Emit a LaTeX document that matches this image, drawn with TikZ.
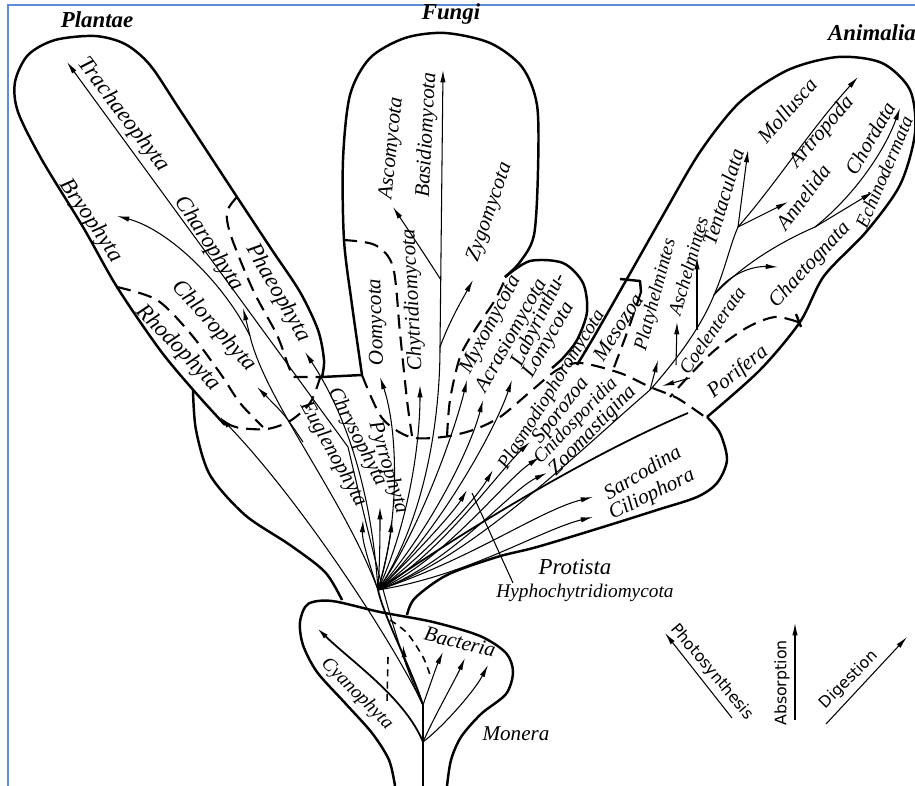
\documentclass[tikz,border=0pt]{standalone}
\usepackage{fontspec}
\setmainfont{Liberation Serif}
\newfontfamily\modefont{DejaVu Sans}
\usetikzlibrary{arrows.meta}
\definecolor{frameblue}{RGB}{91,141,217}
\tikzset{lobe/.style={line width=1.4pt, line join=round},
         part/.style={line width=1.2pt, dash pattern=on 8pt off 4.5pt},
         fine/.style={line width=0.9pt, dash pattern=on 4pt off 3pt},
         ln/.style={line width=0.6pt},
         twig/.style={line width=0.6pt, -{Latex[length=7pt,width=3pt]}},
         taxon/.style={font=\itshape\fontsize{12}{12}\selectfont, inner sep=0pt},
         plant/.style={taxon, font=\itshape\fontsize{13}{13}\selectfont},
         small/.style={taxon, font=\itshape\fontsize{11}{11}\selectfont},
         kingdom/.style={font=\bfseries\itshape\fontsize{13}{13}\selectfont, inner sep=0pt},
         mode/.style={font=\modefont\fontsize{9}{9}\selectfont, inner sep=0pt},
        }

\begin{document}
\begin{tikzpicture}[x=0.02cm, y=-0.02cm]
        \useasboundingbox (0,0) rectangle (915,786);
        \draw[frameblue, line width=0.9pt] (8,786) -- (8,5) -- (915,5);

        \coordinate (root) at (423,786);
        \coordinate (m1) at (423,742);
        \coordinate (m2) at (423,705);
        \coordinate (pro) at (378,590);
        \coordinate (ani) at (650,390);

        \coordinate (cya) at (317,628);
        \coordinate (bac1) at (403,645);
        \coordinate (bac2) at (443,652);
        \coordinate (bac3) at (465,658);
        \coordinate (bac4) at (488,665);

        \coordinate (tra) at (67,62);
        \coordinate (trk) at (348,447);
        \coordinate (cha) at (243,308);
        \coordinate (chak) at (250,336);
        \coordinate (bry) at (117,216);
        \coordinate (chl) at (257,387);
        \coordinate (chlk) at (303,442);
        \coordinate (rho) at (220,417);
        \coordinate (pha) at (305,352);

        \coordinate (eug) at (363,520);
        \coordinate (chr) at (380,507);
        \coordinate (pyr) at (392,520);
        \coordinate (oom) at (380,377);
        \coordinate (chy) at (420,385);
        \coordinate (bask) at (440,347);
        \coordinate (bas) at (443,70);
        \coordinate (ascj) at (441,280);
        \coordinate (asc) at (393,207);
        \coordinate (zyg) at (473,280);
        \coordinate (myx) at (467,380);
        \coordinate (acr) at (483,400);
        \coordinate (lab) at (512,380);
        \coordinate (hyp) at (467,490);
        \coordinate (pla) at (493,470);
        \coordinate (spo) at (530,442);
        \coordinate (cni) at (540,457);
        \coordinate (zoo) at (547,473);
        \coordinate (sar) at (593,497);
        \coordinate (cil) at (593,517);
        \coordinate (sare) at (688,413);
        \coordinate (hyl) at (472,493);
        \coordinate (hyl2) at (513,583);

        \coordinate (pty) at (658,360);
        \coordinate (ash0) at (676,365);
        \coordinate (ash) at (677,322);
        \coordinate (ten0) at (697,330);
        \coordinate (ten) at (697,257);
        \coordinate (coe0) at (690,378);
        \coordinate (coe) at (662,386);
        \coordinate (s1) at (714,295);
        \coordinate (chae) at (778,267);
        \coordinate (ech0) at (815,227);
        \coordinate (ech) at (873,192);
        \coordinate (cho) at (900,108);
        \coordinate (mol0) at (738,227);
        \coordinate (mol) at (748,150);
        \coordinate (ann) at (788,202);
        \coordinate (art) at (858,77);

        \coordinate (pho0) at (732,718);
        \coordinate (pho) at (665,633);
        \coordinate (abs0) at (795,720);
        \coordinate (abs) at (795,623);
        \coordinate (dig0) at (826,724);
        \coordinate (dig) at (907,637);

        % outlines
        \draw[lobe] plot[smooth] coordinates {(225,425) (195,392) (160,350) (117,287) (83,227) (42,160) (18,112) (15,82) (28,55) (55,40) (95,36) (125,44) (150,65) (180,110) (237,197) (272,250) (300,292) (318,330) (324,360) (322,377)} -- (362,375);
        \draw[lobe] plot[smooth] coordinates {(193,390) (196,430) (210,475) (245,515) (290,545) (325,572) (342,600)};
        \draw[lobe] plot[smooth] coordinates {(362,375) (352,305) (344,240) (343,160) (350,95) (370,58) (405,38) (445,33) (490,43) (522,67) (537,105) (538,170) (534,235) (520,262) (505,277)};
        \draw[lobe] plot[smooth] coordinates {(505,277) (530,261) (563,263) (583,283) (587,312) (577,340) (563,358) (552,368)};
        \draw[lobe] plot[smooth] coordinates {(577,365) (595,335) (628,277) (662,217) (700,152) (740,102) (788,70) (838,57) (882,63) (910,90) (915,133) (900,185) (866,232) (824,276) (800,322) (760,370) (707,417)};
        \draw[lobe] plot[smooth] coordinates {(707,417) (720,433) (727,460) (717,483) (697,497) (657,510) (603,527) (537,547) (497,557) (447,575) (415,598) (407,615)};
        \draw[lobe] plot[smooth] coordinates {(395,786) (389,760) (372,733) (345,703) (317,672) (303,645) (300,622) (308,604) (332,601) (380,612) (433,622) (480,636) (506,653) (513,672) (506,694) (481,714) (461,737) (451,760) (447,786)};
        \draw[lobe] (620,279) -- (640,281) -- (641,292);
        \draw[lobe] (796,314) -- (801,327);

        % dashed divisions
        \draw[part] plot[smooth] coordinates {(237,197) (227,212) (231,236) (253,290) (277,335) (288,365) (293,377)} -- (322,377);
        \draw[part] plot[smooth] coordinates {(117,287) (157,300) (190,333) (220,373) (240,403) (263,427)};
        \draw[part] plot[smooth] coordinates {(225,423) (240,428) (267,429) (290,421) (310,403) (320,378)};
        \draw[part] plot[smooth] coordinates {(343,240) (375,245) (393,267) (400,333) (407,400) (412,436)};
        \draw[part] plot[smooth] coordinates {(447,437) (450,400) (460,357) (475,330) (495,300) (507,275)};
        \draw[part] plot[smooth] coordinates {(362,375) (382,418) (410,437) (443,437) (473,430) (500,417) (530,392) (557,370) (580,363) (620,373) (650,387) (677,398) (705,417)};
        \draw[part] plot[smooth] coordinates {(641,292) (628,330) (613,370)};
        \draw[part] plot[smooth] coordinates {(798,322) (775,317) (748,327) (715,350) (688,377) (670,397)};
        \draw[fine] plot[smooth] coordinates {(390,620) (407,633) (423,657) (430,675)};
        \draw[fine] (388,657) -- (387,703);

        % Monera
        \draw[ln, line width=1pt] (root) -- (m1) -- (m2);
        \draw[twig, line width=1pt] (m1) .. controls (405,698) and (352,662) .. (cya);
        \draw[twig] (m2) .. controls (415,680) and (405,665) .. (bac1);
        \draw[twig] (m2) .. controls (430,685) and (437,665) .. (bac2);
        \draw[twig] (m1) .. controls (435,715) and (455,680) .. (bac3);
        \draw[twig] (m1) .. controls (445,725) and (475,690) .. (bac4);
        \draw[ln, line width=1pt] (m2) .. controls (410,665) and (385,620) .. (pro);

        % Plantae
        \draw[twig] (m2) .. controls (395,650) and (370,540) .. (trk) -- (tra);
        \draw[twig] (m2) .. controls (392,640) and (300,500) .. (rho);
        \draw[twig] (pro) .. controls (345,500) and (265,400) .. (chak) -- (cha);
        \draw[twig] (chak) .. controls (225,285) and (170,230) .. (bry);
        \draw[twig] (chlk) .. controls (285,415) .. (chl);
        \draw[twig] (pro) .. controls (372,500) and (350,420) .. (pha);

        % fan
        \draw[twig] (pro) .. controls (368,560) and (362,540) .. (eug);
        \draw[twig] (pro) .. controls (380,560) and (380,530) .. (chr);
        \draw[twig] (pro) .. controls (385,565) and (390,540) .. (pyr);
        \draw[twig] (pro) .. controls (400,520) and (398,430) .. (oom);
        \draw[twig] (pro) .. controls (410,520) and (420,440) .. (chy);
        \draw[twig] (pro) .. controls (425,520) and (440,420) .. (bask) -- (bas);
        \draw[twig] (ascj) .. controls (425,255) and (405,225) .. (asc);
        \draw[twig] (bask) .. controls (450,320) and (462,300) .. (zyg);
        \draw[twig] (pro) .. controls (420,530) and (455,430) .. (myx);
        \draw[twig] (pro) .. controls (430,530) and (470,450) .. (acr);
        \draw[twig] (pro) .. controls (440,530) and (495,430) .. (lab);
        \draw[twig] (pro) .. controls (420,550) and (455,510) .. (hyp);
        \draw[twig] (pro) .. controls (430,550) and (475,500) .. (pla);
        \draw[twig] (pro) .. controls (440,555) and (500,470) .. (spo);
        \draw[twig] (pro) .. controls (445,560) and (505,480) .. (cni);
        \draw[twig] (pro) .. controls (450,565) and (510,490) .. (zoo);
        \draw[twig] (pro) .. controls (470,560) and (540,510) .. (sar);
        \draw[twig] (pro) .. controls (470,575) and (540,530) .. (cil);
        \draw[ln] (pro) .. controls (470,560) and (580,450) .. (ani);
        \draw[ln, line width=1pt] (pro) .. controls (480,520) and (600,450) .. (sare);
        \draw[ln] (hyl) -- (hyl2);

        % Animalia
        \draw[twig] (ani) -- (pty);
        \draw[twig] (ash0) -- (ash);
        \draw[twig] (ten0) -- (ten);
        \draw[twig] (coe0) -- (coe);
        \draw[ln] (ani) .. controls (672,365) and (700,330) .. (s1) .. controls (725,270) and (730,245) .. (mol0);
        \draw[twig] (s1) .. controls (730,272) and (755,266) .. (chae);
        \draw[ln] (s1) .. controls (745,262) and (785,240) .. (ech0);
        \draw[twig] (ech0) -- (ech);
        \draw[twig] (ech0) .. controls (855,195) and (885,150) .. (cho);
        \draw[twig] (mol0) -- (mol);
        \draw[twig] (mol0) -- (ann);
        \draw[twig] (mol0) .. controls (775,185) and (810,130) .. (art);

        % modes of nutrition
        \draw[twig] (pho0) -- (pho);
        \draw[twig] (abs0) -- (abs);
        \draw[twig] (dig0) -- (dig);

        % labels
        \node[kingdom] (plantae) at (97,20) {Plantae};
        \node[kingdom] (fungi) at (451,14) {Fungi};
        \node[kingdom] (animalia) at (872,33) {Animalia};

        \node[plant, rotate=-53] (ltra) at (123,115) {Trachaeophyta};
        \node[plant, rotate=-57] (lcha) at (209,244) {Charophyta};
        \node[plant, rotate=-56] (lbry) at (91,221) {Bryophyta};
        \node[plant, rotate=-48] (lchl) at (214,326) {Chlorophyta};
        \node[plant, rotate=-46] (lrho) at (178,348) {Rhodophyta};
        \node[plant, rotate=-60] (lpha) at (278,293) {Phaeophyta};

        \node[taxon, rotate=-61] (leug) at (333,454) {Euglenophyta};
        \node[taxon, rotate=-63] (lchr) at (357,437) {Chrysophyta};
        \node[taxon, rotate=-73] (lpyr) at (388,468) {Pyrrophyta};

        \node[taxon, rotate=92] (loom) at (377,322) {Oomycota};
        \node[taxon, rotate=93] (lchy) at (413,300) {Chytridiomycota};
        \node[taxon, rotate=84] (lasc) at (392,148) {Ascomycota};
        \node[taxon, rotate=87] (lbas) at (427,135) {Basidiomycota};
        \node[taxon, rotate=71] (lzyg) at (490,212) {Zygomycota};
        \node[taxon, rotate=62] (lmyx) at (491,325) {Myxomycota};
        \node[taxon, rotate=61] (lacr) at (512,336) {Acrasiomycota};
        \node[taxon, rotate=64] (llab) at (539,320) {Labyrinthu-};
        \node[taxon, rotate=60] (llom) at (549,340) {Lomycota};

        \node[small, rotate=58] (lpla) at (552,390) {Plasmodiophoromycota};
        \node[taxon, rotate=52] (lspo) at (561,411) {Sporozoa};
        \node[small, rotate=46] (lcni) at (576,421) {Cnidosporidia};
        \node[taxon, rotate=46] (lzoo) at (593,431) {Zoomastigina};
        \node[taxon, rotate=31] (lsar) at (642,472) {Sarcodina};
        \node[taxon, rotate=26] (lcil) at (652,495) {Ciliophora};
        \node[plant] (lpro) at (575,567) {Protista};
        \node[small] (lhyp) at (585,593) {Hyphochytridiomycota};

        \node[taxon, rotate=57] (lmes) at (618,327) {Mesozoa};
        \node[small, rotate=75] (lpty) at (656,295) {Platyhelmintes};
        \node[small, rotate=74] (lash) at (688,266) {Aschelmintes};
        \node[taxon, rotate=73] (lten) at (723,197) {Tentaculata};
        \node[taxon, rotate=49] (lmol) at (787,110) {Mollusca};
        \node[taxon, rotate=49] (lart) at (822,132) {Artropoda};
        \node[taxon, rotate=53] (lann) at (803,197) {Annelida};
        \node[taxon, rotate=60] (lcho) at (870,138) {Chordata};
        \node[small, rotate=67] (lech) at (884,172) {Echinodermata};
        \node[taxon, rotate=47] (lchae) at (810,265) {Chaetognata};
        \node[small, rotate=55] (lcoe) at (712,330) {Coelenterata};
        \node[taxon, rotate=39] (lpor) at (738,372) {Porifera};

        \node[taxon, rotate=-14] (lbac) at (460,642) {Bacteria};
        \node[small, rotate=-45] (lcya) at (357,694) {Cyanophyta};
        \node[taxon] (lmon) at (516,734) {Monera};

        \node[mode, rotate=-50] (lpho) at (712,672) {Photosynthesis};
        \node[mode, rotate=90] (labs) at (782,683) {Absorption};
        \node[mode, rotate=45] (ldig) at (849,680) {Digestion};
    \end{tikzpicture}
\end{document}
